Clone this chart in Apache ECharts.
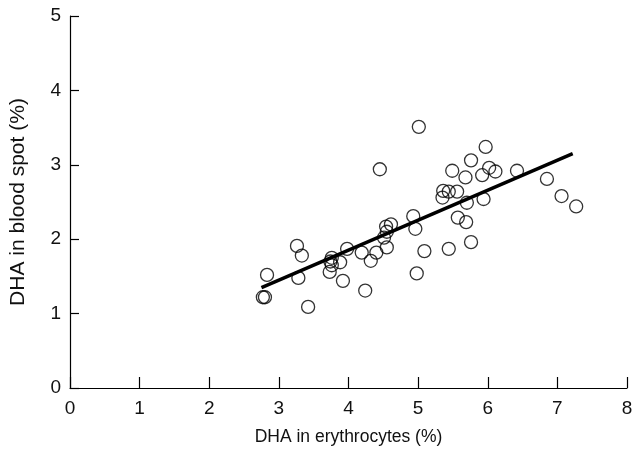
<!DOCTYPE html>
<html>
<head>
<meta charset="utf-8">
<script src="https://cdn.jsdelivr.net/npm/echarts@6/dist/echarts.min.js"></script>
<style>html,body{margin:0;padding:0;background:#fff}#c{width:643px;height:453px}</style>
</head>
<body>
<div id="c"></div>
<script>
const erythrocyteDHA = [2.77,2.80,2.83,3.28,3.26,3.33,3.42,3.76,3.74,3.76,3.73,3.88,3.92,3.98,4.19,4.24,4.32,4.40,4.45,4.51,4.54,4.61,4.55,4.55,4.93,4.96,4.98,5.01,5.09,5.36,5.44,5.56,5.35,5.44,5.49,5.57,5.69,5.68,5.70,5.76,5.76,5.92,5.94,5.97,6.02,6.11,6.42,6.85,7.06,7.27];
const bloodSpotDHA = [1.22,1.22,1.52,1.48,1.91,1.78,1.09,1.75,1.70,1.65,1.56,1.69,1.44,1.87,1.82,1.31,1.71,1.82,2.94,2.02,2.17,2.20,2.10,1.89,2.31,2.14,1.54,3.51,1.84,2.65,2.64,2.64,2.56,1.87,2.92,2.29,2.23,2.83,2.49,1.96,3.06,2.86,2.54,3.24,2.96,2.91,2.92,2.81,2.58,2.44];
const fitLineX = [2.75, 7.22];
const fitLineY = [1.35, 3.15];
const xTicks = [0,1,2,3,4,5,6,7,8];
const yTicks = [0,1,2,3,4,5];

const chart = echarts.init(document.getElementById('c'));
const font = 'Liberation Sans';
chart.setOption({
  animation: false,
  grid: {left: 70, right: 16, top: 16, bottom: 65},
  xAxis: {
    type: 'value', min: xTicks[0], max: xTicks[xTicks.length-1], interval: 1,
    name: 'DHA in erythrocytes (%)', nameLocation: 'middle', nameGap: 40,
    nameTextStyle: {fontFamily: font, fontSize: 17.5, color: '#111'},
    axisLine: {show: true, lineStyle: {color: '#000', width: 1.2}},
    axisTick: {show: true, inside: true, length: 11, lineStyle: {color: '#000', width: 1.2}},
    axisLabel: {fontFamily: font, fontSize: 19, color: '#111', margin: 11},
    splitLine: {show: false}
  },
  yAxis: {
    type: 'value', min: yTicks[0], max: yTicks[yTicks.length-1], interval: 1,
    name: 'DHA in blood spot (%)', nameLocation: 'middle', nameGap: 41,
    nameTextStyle: {fontFamily: font, fontSize: 21, color: '#111'},
    axisLine: {show: true, lineStyle: {color: '#000', width: 1.2}},
    axisTick: {show: true, inside: true, length: 9, lineStyle: {color: '#000', width: 1.2}},
    axisLabel: {fontFamily: font, fontSize: 19, color: '#111', margin: 9},
    splitLine: {show: false}
  },
  series: [
    {
      type: 'scatter',
      data: erythrocyteDHA.map((x, i) => [x, bloodSpotDHA[i]]),
      symbol: 'circle', symbolSize: 13,
      itemStyle: {color: 'rgba(255,255,255,0)', borderColor: '#000', borderWidth: 1.3},
      z: 3
    },
    {
      type: 'line',
      data: fitLineX.map((x, i) => [x, fitLineY[i]]),
      symbol: 'none',
      lineStyle: {color: '#000', width: 3.5},
      z: 4
    }
  ]
});
</script>
</body>
</html>
